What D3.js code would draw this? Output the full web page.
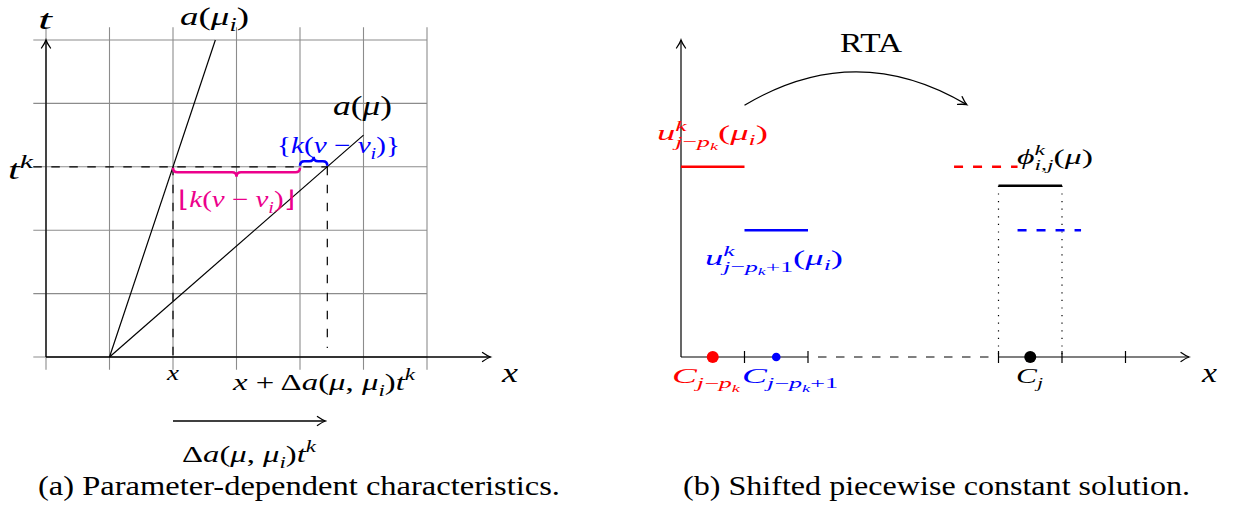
<!DOCTYPE html>
<html><head><meta charset="utf-8">
<script src="https://cdn.jsdelivr.net/npm/d3@7"></script>
<style>
html,body{margin:0;padding:0;background:#fff;}
text{font-family:"Liberation Serif","Times New Roman",serif;white-space:pre;}
</style></head>
<body>
<svg id="c" width="1238" height="506"></svg>
<script>
// ---------- data (left panel) ----------
const gridXTicks = [0, 1, 2, 3, 4, 5, 6];
const gridYTicks = [0, 1, 2, 3, 4, 5];
const charFoot = 1;                  // foot of both characteristics
const charMuI = [2.667, 5];          // end point of a(mu_i)
const charMu = [5, 3.5];             // end point of a(mu)
const tK = 3;                        // time level t^k
const xStart = 2;                    // x
const xShifted = 4.43;               // x + Delta a t^k
const floorEnd = 4;                  // end of floor brace
const shiftArrow = [2, 4.4];         // arrow below axis

// ---------- data (right panel) ----------
const rTicks = [1, 2, 5, 6, 7];
const solidCells = [ {x0: 0, x1: 1, v: 3, c: "#ff0000"}, {x0: 1, x1: 2, v: 2, c: "#0000ff"} ];
const shiftedCells = [ {x0: 4.3, x1: 5.3, v: 3, c: "#ff0000"}, {x0: 5.3, x1: 6.3, v: 2, c: "#0000ff"} ];
const projCell = {x0: 5, x1: 6, v: 2.7};
const centers = [ {x: 0.5, c: "#ff0000", r: 6}, {x: 1.5, c: "#0000ff", r: 4.3}, {x: 5.5, c: "#000000", r: 6} ];

const svg = d3.select("#c");
const MAG = "#ec008c";
const FONT = "Liberation Serif";

// scales
const xL = d3.scaleLinear().domain([0, 7]).range([46, 490.5]);
const yL = d3.scaleLinear().domain([0, 5]).range([357, 40]);
const xR = d3.scaleLinear().domain([0, 8]).range([681, 1189]);
const yR = d3.scaleLinear().domain([0, 5]).range([357, 40]);

// arrow marker
const defs = svg.append("defs");
defs.append("marker").attr("id", "arr").attr("markerUnits", "userSpaceOnUse")
  .attr("viewBox", "-10 -6 12 12").attr("refX", 0).attr("refY", 0)
  .attr("markerWidth", 12).attr("markerHeight", 12).attr("orient", "auto")
  .append("path").attr("d", "M-8,-4.5 Q-3,-1 0,0 Q-3,1 -8,4.5")
  .attr("fill", "none").attr("stroke", "#000").attr("stroke-width", 1.3).attr("stroke-linecap", "round");

// math-text helper (optionally stretched horizontally to a target width)
function I(s) { return {s, i: true}; }
function R(s) { return {s, i: false}; }
function mathLabel(x, y, tokens, fs, color, anchor, width) {
  const g = svg.append("g").attr("fill", color || "#000");
  let cx = 0;
  function put(tok, size, by) {
    const t = g.append("text").attr("x", cx).attr("y", by).attr("font-size", size)
      .attr("font-family", FONT)
      .attr("font-style", tok.i ? "italic" : "normal").text(tok.s);
    cx += t.node().getComputedTextLength();
  }
  function layout(toks, size, by) {
    toks.forEach(tok => {
      if (tok.sub || tok.sup) {
        const start = cx; let w = 0;
        if (tok.sup) { cx = start; layout(tok.sup, size * 0.7, by - size * 0.42); w = Math.max(w, cx - start); }
        if (tok.sub) { cx = start; layout(tok.sub, size * 0.7, by + size * (tok.sup ? 0.3 : 0.24)); w = Math.max(w, cx - start); }
        cx = start + w;
      } else put(tok, size, by);
    });
  }
  layout(tokens, fs, 0);
  const sx = width ? width / cx : 1;
  const W = cx * sx;
  const off = anchor === "middle" ? -W / 2 : anchor === "end" ? -W : 0;
  g.attr("transform", `translate(${x + off},${y}) scale(${sx},1)`);
  return g;
}

// brace path
function brace(x1, x2, y, dir, a) {
  const m = (x1 + x2) / 2, h = a / 2;
  return `M${x1},${y} Q${x1},${y + dir * h} ${x1 + h},${y + dir * h} L${m - h},${y + dir * h} ` +
         `Q${m},${y + dir * h} ${m},${y + dir * a} Q${m},${y + dir * h} ${m + h},${y + dir * h} ` +
         `L${x2 - h},${y + dir * h} Q${x2},${y + dir * h} ${x2},${y}`;
}

// ================= LEFT PANEL =================
const L = svg.append("g");
L.selectAll(".gv").data(gridXTicks).join("line")
  .attr("x1", d => xL(d)).attr("x2", d => xL(d)).attr("y1", yL(-0.2)).attr("y2", yL(5.2))
  .attr("stroke", "#8c8c8c").attr("stroke-width", 1.1);
L.selectAll(".gh").data(gridYTicks).join("line")
  .attr("x1", xL(-0.2)).attr("x2", xL(6)).attr("y1", d => yL(d)).attr("y2", d => yL(d))
  .attr("stroke", "#8c8c8c").attr("stroke-width", 1.1);
L.append("line").attr("x1", xL(0)).attr("y1", yL(0)).attr("x2", xL(7)).attr("y2", yL(0))
  .attr("stroke", "#000").attr("stroke-width", 1.3).attr("marker-end", "url(#arr)");
L.append("line").attr("x1", xL(0)).attr("y1", yL(0)).attr("x2", xL(0)).attr("y2", yL(5))
  .attr("stroke", "#000").attr("stroke-width", 1.3).attr("marker-end", "url(#arr)");
L.append("line").attr("x1", xL(-0.2)).attr("x2", xL(xShifted)).attr("y1", yL(tK)).attr("y2", yL(tK))
  .attr("stroke", "#000").attr("stroke-width", 1.2).attr("stroke-dasharray", "8.5,9.5");
L.append("line").attr("x1", xL(xStart)).attr("x2", xL(xStart)).attr("y1", yL(tK)).attr("y2", yL(0))
  .attr("stroke", "#000").attr("stroke-width", 1.2).attr("stroke-dasharray", "8.5,9.5");
L.append("line").attr("x1", xL(xShifted)).attr("x2", xL(xShifted)).attr("y1", yL(tK)).attr("y2", yL(0.14))
  .attr("stroke", "#000").attr("stroke-width", 1.2).attr("stroke-dasharray", "8.5,9.5");
L.append("line").attr("x1", xL(charFoot)).attr("y1", yL(0)).attr("x2", xL(charMuI[0])).attr("y2", yL(charMuI[1]))
  .attr("stroke", "#000").attr("stroke-width", 1.2);
L.append("line").attr("x1", xL(charFoot)).attr("y1", yL(0)).attr("x2", xL(charMu[0])).attr("y2", yL(charMu[1]))
  .attr("stroke", "#000").attr("stroke-width", 1.2);
L.append("path").attr("d", brace(xL(xStart), xL(floorEnd), yL(tK) + 1, 1, 9))
  .attr("fill", "none").attr("stroke", MAG).attr("stroke-width", 2.6);
L.append("path").attr("d", brace(xL(floorEnd), xL(xShifted), yL(tK) - 1, -1, 9))
  .attr("fill", "none").attr("stroke", "#0000ff").attr("stroke-width", 2.6);
L.append("line").attr("x1", xL(shiftArrow[0])).attr("x2", xL(shiftArrow[1])).attr("y1", 421).attr("y2", 421)
  .attr("stroke", "#000").attr("stroke-width", 1.3).attr("marker-end", "url(#arr)");

// left labels
mathLabel(38, 29, [I("t")], 27, "#000", "start", 14);
mathLabel(180, 25, [I("a"), R("("), I("μ"), {sub: [I("i")]}, R(")")], 26, "#000", "start", 69);
mathLabel(333, 115, [I("a"), R("("), I("μ"), R(")")], 27, "#000", "start", 59);
mathLabel(8, 179, [I("t"), {sup: [I("k")]}], 27, "#000", "start", 25);
mathLabel(502, 382, [I("x")], 27, "#000", "start", 16);
mathLabel(xL(xStart), 380, [I("x")], 21, "#000", "middle", 12);
mathLabel(233, 390, [I("x"), R(" + Δ"), I("a"), R("("), I("μ"), R(", "), I("μ"), {sub: [I("i")]}, R(")"), I("t"), {sup: [I("k")]}], 24, "#000", "start", 182);
mathLabel(182, 462, [R("Δ"), I("a"), R("("), I("μ"), R(", "), I("μ"), {sub: [I("i")]}, R(")"), I("t"), {sup: [I("k")]}], 24, "#000", "start", 134);
mathLabel(178, 207, [R("⌊"), I("k"), R("("), I("ν"), R(" − "), I("ν"), {sub: [I("i")]}, R(")⌋")], 23, MAG, "start", 117);
mathLabel(277, 153, [R("{"), I("k"), R("("), I("ν"), R(" − "), I("ν"), {sub: [I("i")]}, R(")}")], 23, "#0000ff", "start", 123);

// ================= RIGHT PANEL =================
const Rg = svg.append("g");
Rg.append("line").attr("x1", xR(0)).attr("y1", yR(0)).attr("x2", xR(0)).attr("y2", yR(5))
  .attr("stroke", "#000").attr("stroke-width", 1.2).attr("marker-end", "url(#arr)");
Rg.append("line").attr("x1", xR(0)).attr("y1", yR(0)).attr("x2", xR(2)).attr("y2", yR(0))
  .attr("stroke", "#000").attr("stroke-width", 1.2);
Rg.append("line").attr("x1", xR(2) + 10).attr("y1", yR(0)).attr("x2", xR(5)).attr("y2", yR(0))
  .attr("stroke", "#000").attr("stroke-width", 1.2).attr("stroke-dasharray", "8.5,9.5");
Rg.append("line").attr("x1", xR(5)).attr("y1", yR(0)).attr("x2", xR(8)).attr("y2", yR(0))
  .attr("stroke", "#000").attr("stroke-width", 1.2).attr("marker-end", "url(#arr)");
Rg.selectAll(".tk").data(rTicks).join("line")
  .attr("x1", d => xR(d)).attr("x2", d => xR(d)).attr("y1", yR(0) - 6).attr("y2", yR(0) + 6)
  .attr("stroke", "#000").attr("stroke-width", 1.2);
Rg.selectAll(".dv").data([projCell.x0, projCell.x1]).join("line")
  .attr("x1", d => xR(d)).attr("x2", d => xR(d)).attr("y1", yR(projCell.v)).attr("y2", yR(0))
  .attr("stroke", "#000").attr("stroke-width", 1.2).attr("stroke-dasharray", "1.2,6.4");
Rg.selectAll(".sc").data(solidCells).join("line")
  .attr("x1", d => xR(d.x0)).attr("x2", d => xR(d.x1)).attr("y1", d => yR(d.v)).attr("y2", d => yR(d.v))
  .attr("stroke", d => d.c).attr("stroke-width", 2.6);
Rg.selectAll(".dc").data(shiftedCells).join("line")
  .attr("x1", d => xR(d.x0)).attr("x2", d => xR(d.x1)).attr("y1", d => yR(d.v)).attr("y2", d => yR(d.v))
  .attr("stroke", d => d.c).attr("stroke-width", 2.6).attr("stroke-dasharray", "9,10");
Rg.append("line").attr("x1", xR(projCell.x0)).attr("x2", xR(projCell.x1))
  .attr("y1", yR(projCell.v)).attr("y2", yR(projCell.v)).attr("stroke", "#000").attr("stroke-width", 2.6);
Rg.selectAll(".ct").data(centers).join("circle")
  .attr("cx", d => xR(d.x)).attr("cy", yR(0)).attr("r", d => d.r).attr("fill", d => d.c);
const p0 = [xR(1), yR(3.97)], p1 = [xR(4.5), yR(3.98)], pc = [xR(2.75), yR(5.02)];
Rg.append("path").attr("d", `M${p0[0]},${p0[1]} Q${pc[0]},${pc[1]} ${p1[0]},${p1[1]}`)
  .attr("fill", "none").attr("stroke", "#000").attr("stroke-width", 1.3).attr("marker-end", "url(#arr)");

// right labels
mathLabel(840, 52, [R("RTA")], 28, "#000", "start", 62);
mathLabel(657, 140, [I("u"), {sup: [I("k")], sub: [I("j"), R("−"), I("p"), {sub: [I("k")]}]}, R("("), I("μ"), {sub: [I("i")]}, R(")")], 22, "#ff0000", "start", 111);
mathLabel(705, 265, [I("u"), {sup: [I("k")], sub: [I("j"), R("−"), I("p"), {sub: [I("k")]}, R("+1")]}, R("("), I("μ"), {sub: [I("i")]}, R(")")], 22, "#0000ff", "start", 138);
mathLabel(1017, 164, [I("ϕ"), {sup: [I("k")], sub: [I("i"), R(","), I("j")]}, R("("), I("μ"), R(")")], 21, "#000", "start", 76);
mathLabel(672, 383, [I("C"), {sub: [I("j"), R("−"), I("p"), {sub: [I("k")]}]}], 21, "#ff0000", "start", 68);
mathLabel(742, 383, [I("C"), {sub: [I("j"), R("−"), I("p"), {sub: [I("k")]}, R("+1")]}], 21, "#0000ff", "start", 96);
mathLabel(1016, 383, [I("C"), {sub: [I("j")]}], 21, "#000", "start", 27);
mathLabel(1202, 382, [I("x")], 27, "#000", "start", 15);

// captions
svg.append("text").attr("x", 38).attr("y", 495).attr("font-size", 28).attr("font-family", FONT)
  .attr("textLength", 522).attr("lengthAdjust", "spacingAndGlyphs")
  .text("(a) Parameter-dependent characteristics.");
svg.append("text").attr("x", 683).attr("y", 495).attr("font-size", 28).attr("font-family", FONT)
  .attr("textLength", 507).attr("lengthAdjust", "spacingAndGlyphs")
  .text("(b) Shifted piecewise constant solution.");
</script>
</body></html>
